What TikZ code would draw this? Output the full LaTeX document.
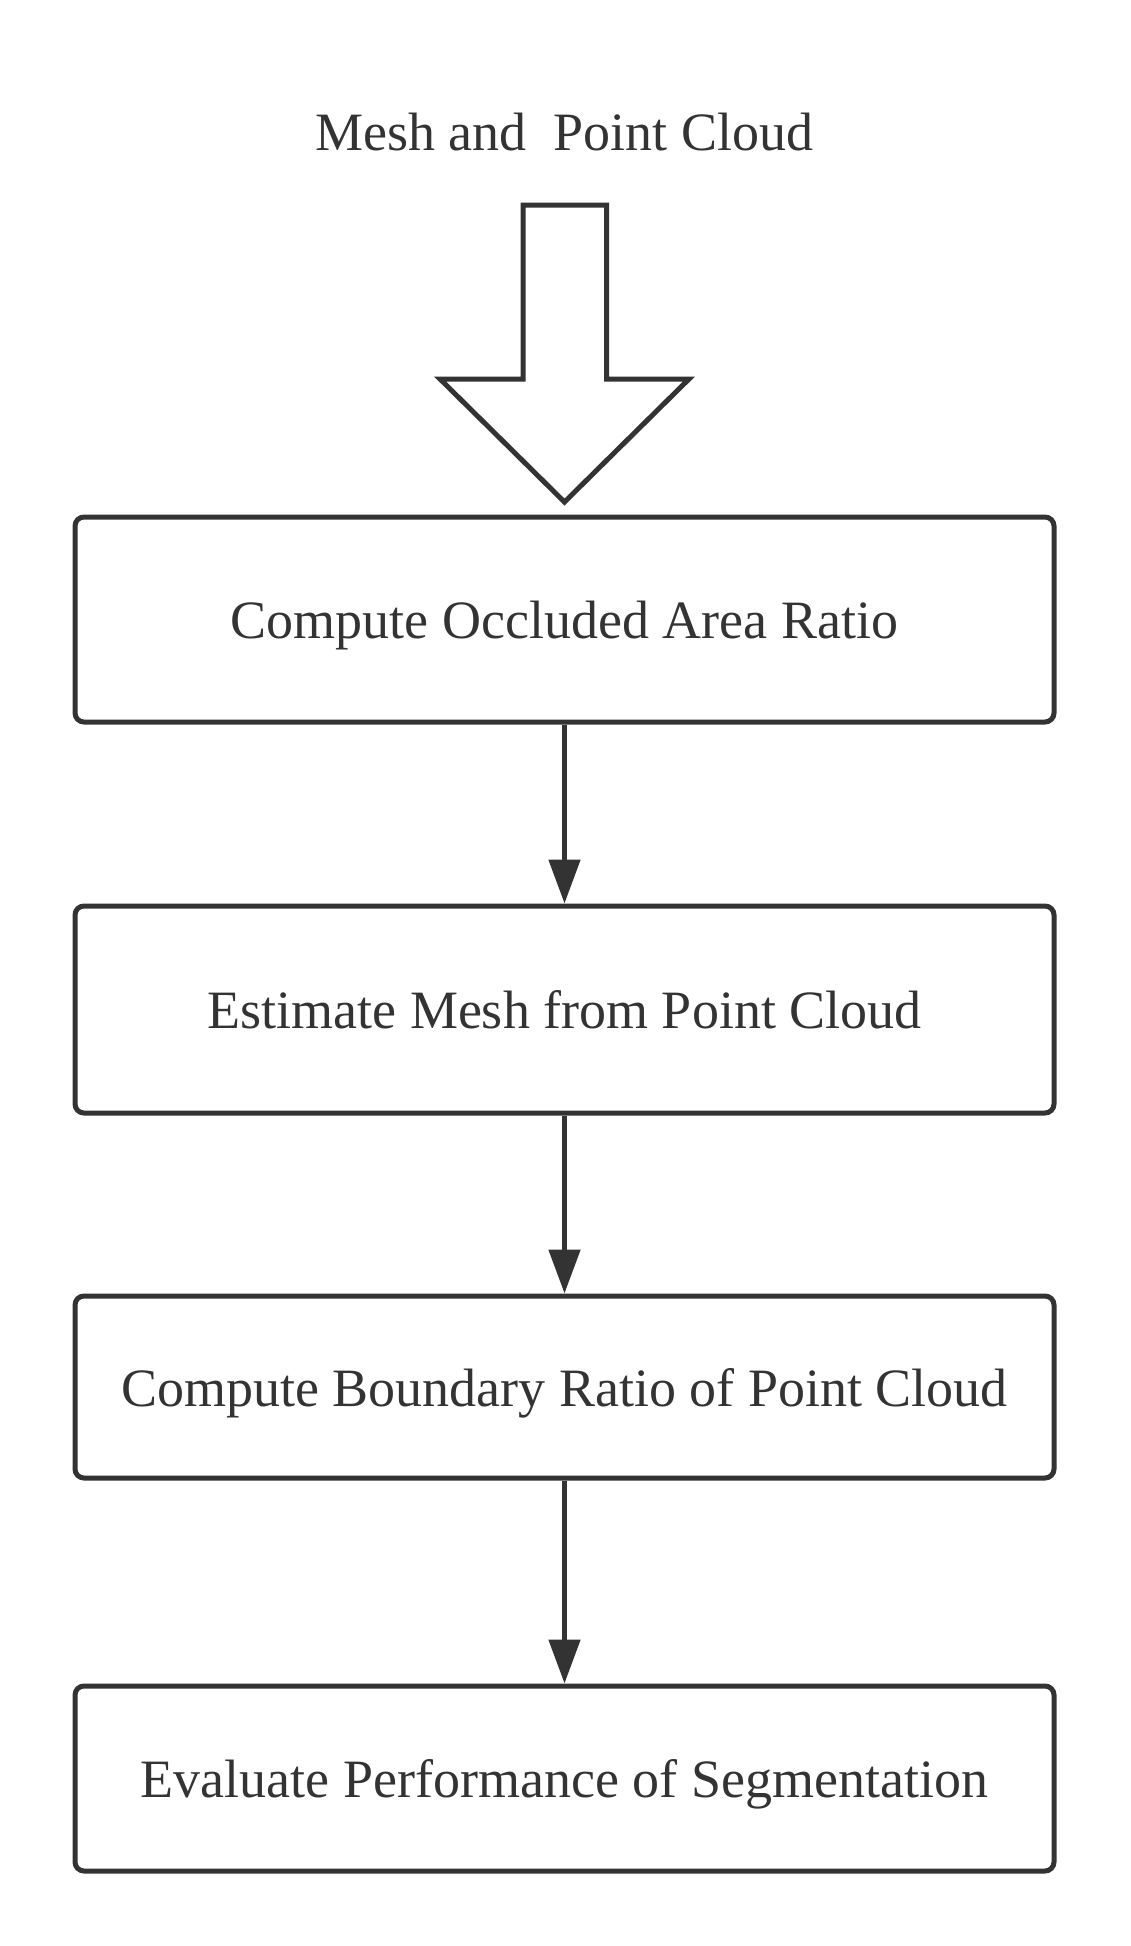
\documentclass[tikz,border=0pt]{standalone}
\usepackage{fontspec}
\setmainfont{Liberation Serif}
\usetikzlibrary{arrows.meta}
\definecolor{ink}{HTML}{333333}
\begin{document}
\begin{tikzpicture}[x=1pt,y=-1pt,
  stepbox/.style={draw=ink, line width=5pt, rounded corners=9pt, minimum width=979pt, inner sep=0pt, text depth=0pt, text=ink, font=\fontsize{54}{60}\selectfont},
  conn/.style={draw=ink, line width=5pt, -{Triangle[length=44pt 0 0, width=31pt 0 0]}},
  lbl/.style={text=ink, font=\fontsize{54}{60}\selectfont, inner sep=0pt}]
\useasboundingbox (0,0) rectangle (1131,1946);
\node[lbl, anchor=base] (title) at (564.5,150) {Mesh and \ Point Cloud};
\draw[ink, line width=5pt, line join=miter] (523,205) -- (606.5,205) -- (606.5,379) -- (689,379) -- (564.5,502) -- (440,379) -- (523,379) -- cycle;
\node[stepbox, minimum height=205pt] (b1) at (564.5,619.5) {Compute Occluded Area Ratio};
\node[stepbox, minimum height=207pt] (b2) at (564.5,1009.5) {Estimate Mesh from Point Cloud};
\node[stepbox, minimum height=182pt] (b3) at (564.5,1387) {Compute Boundary Ratio of Point Cloud};
\node[stepbox, minimum height=185pt] (b4) at (564.5,1778.5) {Evaluate Performance of Segmentation};
\draw[conn] (b1.south) -- (b2.north);
\draw[conn] (b2.south) -- (b3.north);
\draw[conn] (b3.south) -- (b4.north);
\end{tikzpicture}
\end{document}
